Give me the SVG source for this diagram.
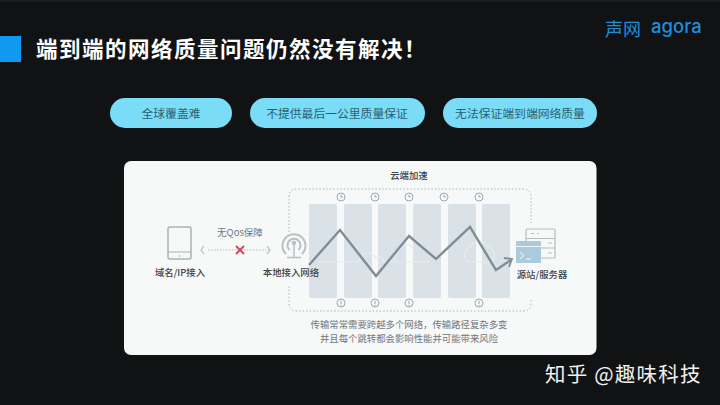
<svg xmlns="http://www.w3.org/2000/svg" width="720" height="405" viewBox="0 0 720 405">
<style>
text{font-family:"Noto Sans CJK SC","Noto Sans",sans-serif}
.pill{fill:#7adcf6}
.pt{font-size:11.8px;fill:#2c5f72;text-anchor:middle}
.lb{font-size:9.400px;fill:#3c4349;text-anchor:middle;font-weight:500}
.cap{font-size:9.400px;fill:#70777c;text-anchor:middle}
.col{fill:#dbe2e7}
.ic{fill:#fafbfb;stroke:#9fa7ac;stroke-width:1}
.ih{stroke:#8f979c;stroke-width:.9;fill:none}
.gr{fill:none;stroke:#b9c0c4;stroke-width:2}
</style>
<defs>
<g id="clock"><circle class="ic" r="4"/><path class="ih" d="M0-2.2V0H1.8"/></g>
<g id="alert"><circle class="ic" r="4"/><path class="ih" d="M0-2.3V1.2M0 1.9V2.8"/></g>
</defs>
<rect width="720" height="405" fill="#111213"/>
<rect width="720" height="2" fill="#1c1a26"/>
<g id="header">
<rect x="0" y="36" width="21" height="26" fill="#0f9af0"/>
<text x="36" y="57" font-size="21.5" font-weight="700" fill="#fff" letter-spacing="1.5">端到端的网络质量问题仍然没有解决！</text>
</g>
<g id="logo">
<text x="605" y="36" font-size="18" fill="#1f8fdc">声网</text>
<text x="651" y="33" font-size="18.500" style="font-family:Inter,sans-serif" fill="#1f8fdc" font-weight="500">agora</text>
</g>
<g id="pill1"><rect class="pill" x="110" y="98" width="122" height="30" rx="15"/><text class="pt" x="171" y="117.500">全球覆盖难</text></g>
<g id="pill2"><rect class="pill" x="250" y="98" width="175" height="30" rx="15"/><text class="pt" x="337" y="117.500">不提供最后一公里质量保证</text></g>
<g id="pill3"><rect class="pill" x="443" y="98" width="154" height="30" rx="15"/><text class="pt" x="520" y="117.500">无法保证端到端网络质量</text></g>
<rect id="card" x="124" y="161" width="472.500" height="194" rx="7" fill="#f7f8f8"/>
<g id="cloud">
<path d="M289 232V197Q289 189 297 189H523Q531 189 531 197V223M531 300V303Q531 311 523 311H297Q289 311 289 303V285" fill="none" stroke="#aeb5b9" stroke-width="1" stroke-dasharray="1.500 2"/>
<text class="lb" x="409" y="179">云端加速</text>
<rect class="col" x="309" y="204" width="28" height="94" rx="2"/>
<rect class="col" x="344" y="204" width="28" height="94" rx="2"/>
<rect class="col" x="378" y="204" width="28" height="94" rx="2"/>
<rect class="col" x="413" y="204" width="28" height="94" rx="2"/>
<rect class="col" x="448" y="204" width="28" height="94" rx="2"/>
<rect class="col" x="482" y="204" width="28" height="94" rx="2"/>
<use href="#clock" x="341" y="197"/><use href="#clock" x="375" y="197"/><use href="#clock" x="409" y="197"/><use href="#clock" x="444" y="197"/><use href="#clock" x="479" y="197"/>
<use href="#alert" x="341" y="303"/><use href="#alert" x="375" y="303"/><use href="#alert" x="409" y="303"/><use href="#alert" x="479" y="303"/>
<path d="M318 262H356Q360 262 360 257Q368 248 376 258Q384 256 384 262H430" fill="none" stroke="#e6ebee" stroke-width="1.200"/>
<path d="M396 260Q392 252 400 248Q408 240 414 250" fill="none" stroke="#e6ebee" stroke-width="1.200"/>
<path d="M468 262Q460 254 470 247Q478 236 488 246Q498 252 492 262Z" fill="none" stroke="#e6ebee" stroke-width="1.200"/>
<text class="cap" x="409" y="328">传输常常需要跨越多个网络，传输路径复杂多变</text>
<text class="cap" x="409" y="342">并且每个跳转都会影响性能并可能带来风险</text>
</g>
<g id="device">
<rect x="168" y="227" width="23" height="32" rx="2" fill="#f7f8f8" stroke="#aab2b7" stroke-width="1.500"/>
<path d="M168 252H191" stroke="#aab2b7" stroke-width="1"/>
<circle cx="179.500" cy="256" r=".7" fill="#8f979c"/>
<text class="lb" x="180" y="276">域名/IP接入</text>
</g>
<g id="antenna">
<path d="M286 254A11.500 11.500 0 1 1 302 254" class="gr" fill="none"/>
<path d="M289.500 250A6.500 6.500 0 1 1 298.500 250" class="gr" fill="none"/>
<circle cx="294" cy="243" r="2.200" fill="#b9c0c4"/>
<path d="M294 245V257M287 257.500H301" class="gr" style="stroke-width:1.500"/>
<text class="lb" x="291" y="276">本地接入网络</text>
</g>
<g id="server">
<rect x="526" y="229" width="29" height="29" rx="1" fill="#f7f8f8" stroke="#b5bdc2" stroke-width="1.200"/>
<path d="M526 238.500H555M526 248H555M531 233.500H534M537 233.500H539M548 243H552M548 253H552" stroke="#b5bdc2" stroke-width="1"/>
<rect x="516" y="241" width="25" height="22" rx="1" fill="#a9cbdd"/>
<path d="M516 246.500H541" stroke="#f2f6f8" stroke-width="1"/>
<path d="M520 252L524 255.500L520 259M526 259H531" fill="none" stroke="#f4f8fa" stroke-width="1"/>
<text class="lb" x="542" y="278">源站/服务器</text>
</g>
<g id="connectors">
<path d="M309 265L340 230L376 276L409 236L436 259L470 227L496 270L511 260" fill="none" stroke="#7f8d96" stroke-width="2.400" stroke-linejoin="miter"/>
<path d="M504 258L512 259L509 267" fill="none" stroke="#7f8d96" stroke-width="1.800"/>
<path d="M208 250H269" stroke="#b6bcc0" stroke-width="1" stroke-dasharray="1.500 1.500"/>
<path d="M204 246L201 250L204 254M267 246L270 250L267 254" fill="none" stroke="#c3c9cc" stroke-width="1.300"/>
<path d="M236 246L244 254M244 246L236 254" stroke="#d8455b" stroke-width="2"/>
<text x="240" y="236" font-size="9.500" fill="#70777c" text-anchor="middle">无Qos保障</text>
</g>
<text id="watermark" x="545" y="382" font-size="20.500" fill="#f2f2f2" letter-spacing="1.200">知乎 @趣味科技</text>
</svg>
